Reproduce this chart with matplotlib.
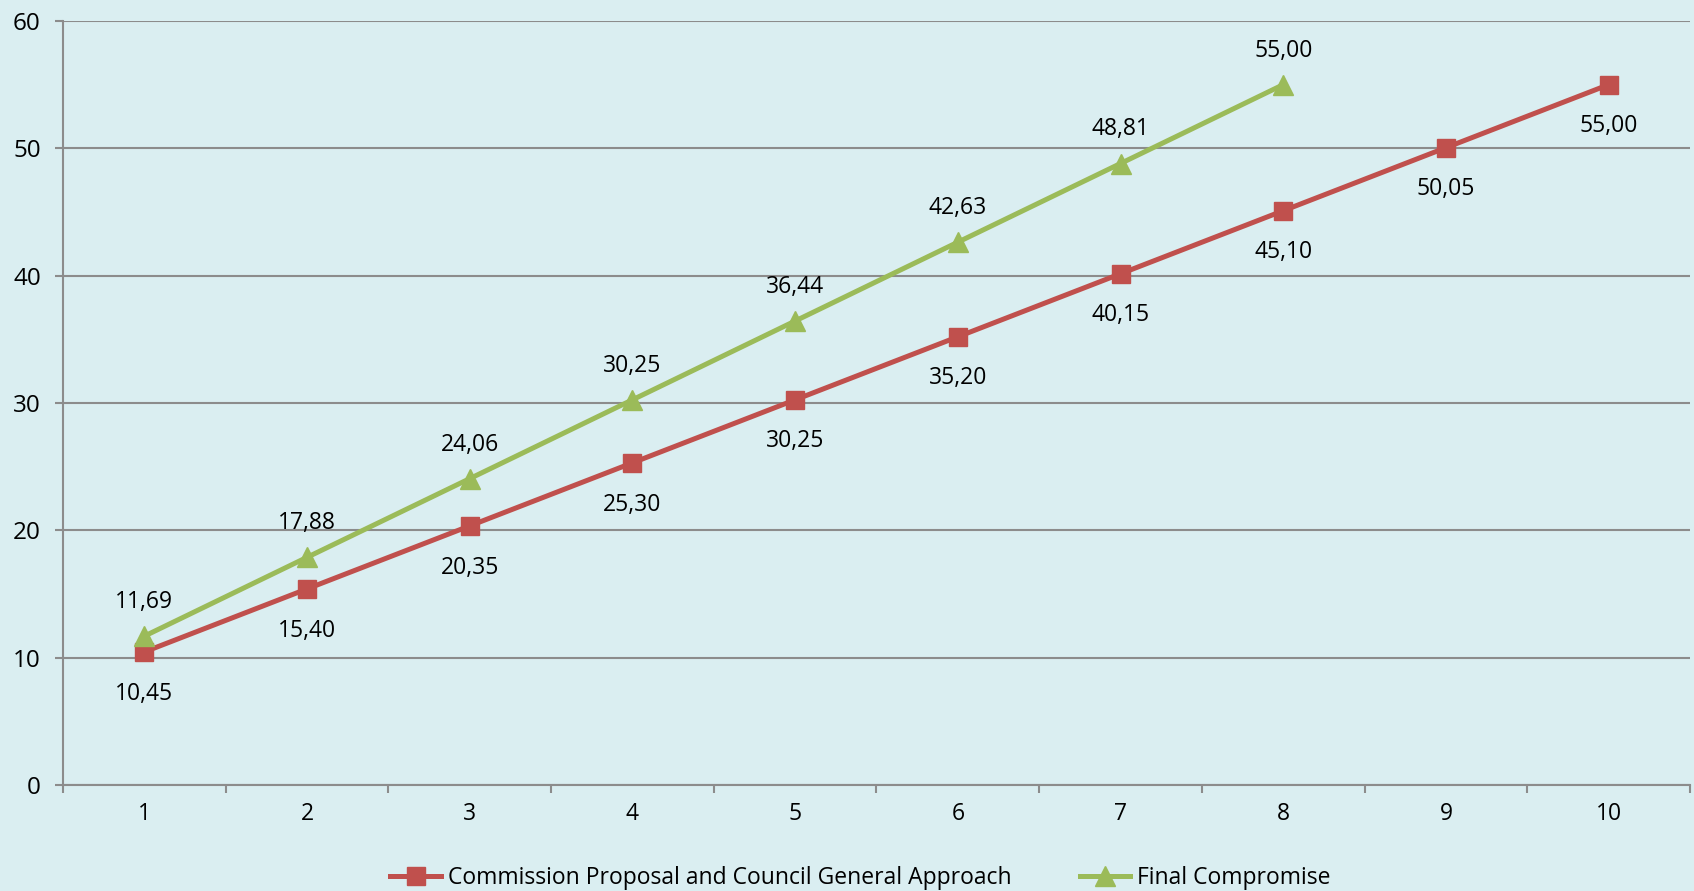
import matplotlib
matplotlib.use("Agg")
import matplotlib.pyplot as plt
import numpy as np

categories = [1, 2, 3, 4, 5, 6, 7, 8, 9, 10]
commission = [10.45, 15.40, 20.35, 25.30, 30.25, 35.20, 40.15, 45.10, 50.05, 55.00]
final_comp = [11.69, 17.88, 24.06, 30.25, 36.44, 42.63, 48.81, 55.00]
y_ticks = [0, 10, 20, 30, 40, 50, 60]

BG = "#DAEEF1"
RED = "#C0504D"
GREEN = "#9BBB59"
GRID = "#8C8C8C"

plt.rcParams["font.family"] = ["Open Sans", "DejaVu Sans"]
FS = 16.5

fig = plt.figure(figsize=(16.94, 8.91), dpi=100, facecolor=BG)
ax = fig.add_axes([0.0372, 0.119, 0.9604, 0.8574])
ax.set_facecolor(BG)

x_red = np.arange(len(commission))
x_green = np.arange(len(final_comp))

ax.plot(x_red, commission, color=RED, linewidth=3.6, marker="s", markersize=13,
        label="Commission Proposal and Council General Approach", zorder=3)
ax.plot(x_green, final_comp, color=GREEN, linewidth=3.6, marker="^", markersize=14,
        label="Final Compromise", zorder=3)

def fmt(v):
    return f"{v:.2f}".replace(".", ",")

for x, v in zip(x_red, commission):
    ax.annotate(fmt(v), (x, v), xytext=(0, -30), textcoords="offset points",
                ha="center", va="center", fontsize=FS)
for x, v in zip(x_green, final_comp):
    ax.annotate(fmt(v), (x, v), xytext=(0, 24.5), textcoords="offset points",
                ha="center", va="center", fontsize=FS)

ax.set_xlim(-0.5, len(categories) - 0.5)
ax.set_ylim(0, 60)
ax.set_yticks(y_ticks)
ax.set_yticklabels([str(t) for t in y_ticks], fontsize=17.5)
ax.set_xticks(x_red)
ax.set_xticklabels([str(c) for c in categories], fontsize=FS)
ax.set_xticks(np.arange(-0.5, len(categories)), minor=True)
ax.tick_params(axis="x", which="major", length=0, pad=12)
ax.tick_params(axis="x", which="minor", length=6, width=1.5, color=GRID)
ax.tick_params(axis="y", length=6, width=1.5, color=GRID, pad=10)

ax.yaxis.grid(True, color=GRID, linewidth=1.5)
ax.set_axisbelow(True)
for s in ["top", "right"]:
    ax.spines[s].set_visible(False)
for s in ["left", "bottom"]:
    ax.spines[s].set_color(GRID)
    ax.spines[s].set_linewidth(1.5)

fig.legend(loc="center", bbox_to_anchor=(0.508, 0.015), ncol=2, frameon=False,
           fontsize=FS, handlelength=2.2, handletextpad=0.3, columnspacing=3.0)

plt.savefig("out.png", dpi=100, facecolor=BG)
plt.close()
